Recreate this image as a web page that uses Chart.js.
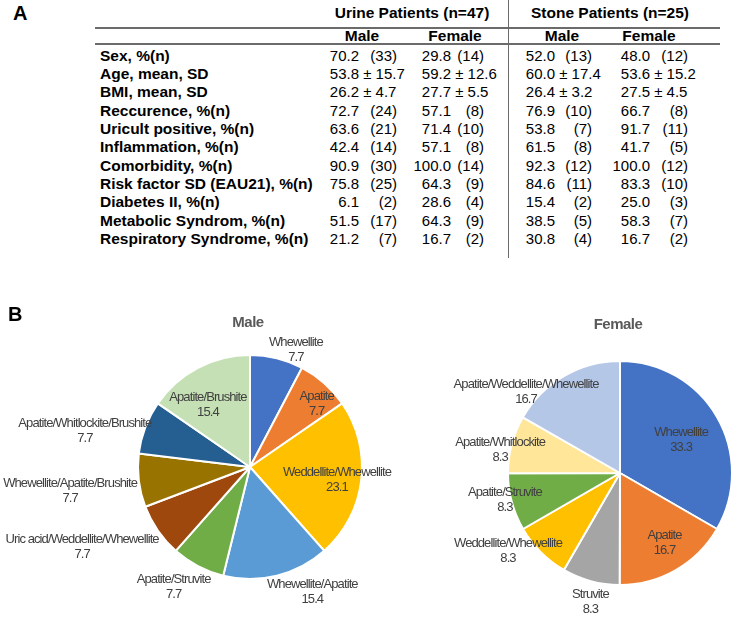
<!DOCTYPE html>
<html>
<head>
  <meta charset="utf-8">
  <title>Urine and stone patients</title>
  <script src="https://cdn.jsdelivr.net/npm/chart.js"></script>
  <style>
    body {
      margin: 0;
      padding: 0;
      background: #fff;
      font-family: "Liberation Sans", Arial, sans-serif;
    }
    #page {
      position: relative;
      width: 738px;
      height: 617px;
      overflow: hidden;
    }
    .t {
      position: absolute;
      white-space: pre;
      line-height: 18px;
      font-size: 15px;
      color: #000;
    }
    .b { font-weight: bold; font-size: 15.5px; }
    .h { font-weight: bold; font-size: 15.5px; }
    .panel { font-weight: bold; font-size: 20px; line-height: 20px; }
    .rule { position: absolute; background: #6b6b6b; }
    .box { position: absolute; }
  </style>
</head>
<body>
  <div id="page">
    <div class="box" id="maleBox" style="left:0; top:290px; width:420px; height:327px;"><canvas id="maleChart"></canvas></div>
    <div class="box" id="femaleBox" style="left:420px; top:290px; width:318px; height:327px;"><canvas id="femaleChart"></canvas></div>
  </div>

  <script>
    // A. table values
    const rowLabels = [
      'Sex, %(n)', 'Age, mean, SD', 'BMI, mean, SD', 'Reccurence, %(n)',
      'Uricult positive, %(n)', 'Inflammation, %(n)', 'Comorbidity, %(n)',
      'Risk factor SD (EAU21), %(n)', 'Diabetes II, %(n)', 'Metabolic Syndrom, %(n)',
      'Respiratory Syndrome, %(n)'
    ];
    const rowStats = ['pct', 'sd', 'sd', 'pct', 'pct', 'pct', 'pct', 'pct', 'pct', 'pct', 'pct'];
    const groupTitles = ['Urine Patients (n=47)', 'Stone Patients (n=25)'];
    const sexTitles = ['Male', 'Female'];

    const urineMale   = [[70.2, 33], [53.8, 15.7], [26.2, 4.7], [72.7, 24], [63.6, 21], [42.4, 14], [90.9, 30], [75.8, 25], [6.1, 2], [51.5, 17], [21.2, 7]];
    const urineFemale = [[29.8, 14], [59.2, 12.6], [27.7, 5.5], [57.1, 8], [71.4, 10], [57.1, 8], [100.0, 14], [64.3, 9], [28.6, 4], [64.3, 9], [16.7, 2]];
    const stoneMale   = [[52.0, 13], [60.0, 17.4], [26.4, 3.2], [76.9, 10], [53.8, 7], [61.5, 8], [92.3, 12], [84.6, 11], [15.4, 2], [38.5, 5], [30.8, 4]];
    const stoneFemale = [[48.0, 12], [53.6, 15.2], [27.5, 4.5], [66.7, 8], [91.7, 11], [41.7, 5], [100.0, 12], [83.3, 10], [25.0, 3], [58.3, 7], [16.7, 2]];

    // B. stone composition, %
    const maleStones = [
      'Whewellite', 'Apatite', 'Weddellite/Whewellite', 'Whewellite/Apatite', 'Apatite/Struvite',
      'Uric acid/Weddellite/Whewellite', 'Whewellite/Apatite/Brushite', 'Apatite/Whitlockite/Brushite',
      'Apatite/Brushite'
    ];
    const maleShare = [7.7, 7.7, 23.1, 15.4, 7.7, 7.7, 7.7, 7.7, 15.4];

    const femaleStones = [
      'Whewellite', 'Apatite', 'Struvite', 'Weddellite/Whewellite', 'Apatite/Struvite',
      'Apatite/Whitlockite', 'Apatite/Weddellite/Whewellite'
    ];
    const femaleShare = [33.3, 16.7, 8.3, 8.3, 8.3, 8.3, 16.7];

    // colours per stone type
    const stoneColors = {
      'Whewellite': '#4472C4',
      'Apatite': '#ED7D31',
      'Weddellite/Whewellite': '#FFC000',
      'Whewellite/Apatite': '#5B9BD5',
      'Apatite/Struvite': '#70AD47',
      'Uric acid/Weddellite/Whewellite': '#9E480E',
      'Whewellite/Apatite/Brushite': '#997300',
      'Apatite/Whitlockite/Brushite': '#255E91',
      'Apatite/Brushite': '#C5E0B4',
      'Struvite': '#A5A5A5',
      'Apatite/Whitlockite': '#FFE699',
      'Apatite/Weddellite/Whewellite': '#B4C7E7'
    };

    // ---- table (panel A) ----
    const page = document.getElementById('page');

    function put(text, x, y, align, cls) {
      const d = document.createElement('div');
      d.className = 't ' + (cls || '');
      d.textContent = text;
      if (align === 'right') d.style.right = (738 - x) + 'px';
      else if (align === 'center') { d.style.left = x + 'px'; d.style.transform = 'translateX(-50%)'; }
      else d.style.left = x + 'px';
      d.style.top = (y - 9) + 'px';
      page.appendChild(d);
      return d;
    }

    function rule(x, y, w, h) {
      const d = document.createElement('div');
      d.className = 'rule';
      Object.assign(d.style, { left: x + 'px', top: y + 'px', width: w + 'px', height: h + 'px' });
      page.appendChild(d);
    }

    put('A', 13, 12, 'left', 'panel');
    put('B', 8, 313, 'left', 'panel');

    put(groupTitles[0], 412, 13, 'center', 'h');
    put(groupTitles[1], 610, 13, 'center', 'h');
    put(sexTitles[0], 362, 36, 'center', 'h');
    put(sexTitles[1], 455, 36, 'center', 'h');
    put(sexTitles[0], 562, 36, 'center', 'h');
    put(sexTitles[1], 649, 36, 'center', 'h');

    rule(95, 27, 625, 1.5);
    rule(95, 43, 625, 1.5);
    rule(507.5, 0, 1.5, 258);

    const tableCols = [
      { data: urineMale, num: 359, n: 397 },
      { data: urineFemale, num: 451, n: 484 },
      { data: stoneMale, num: 555, n: 592 },
      { data: stoneFemale, num: 650, n: 688 }
    ];

    rowLabels.forEach((lab, i) => {
      const y = 55.5 + i * 18.35;
      put(lab, 100, y, 'left', 'b');
      tableCols.forEach(col => {
        const [a, b] = col.data[i];
        put(a.toFixed(1), col.num, y, 'right');
        if (rowStats[i] === 'sd') put(' \u00b1 ' + b.toFixed(1), col.num, y, 'left');
        else put('(' + b + ')', col.n, y, 'right');
      });
    });

    // ---- pies (panel B) ----
    const sliceLabels = {
      id: 'sliceLabels',
      afterDatasetsDraw(chart, args, opts) {
        const ctx = chart.ctx;
        const meta = chart.getDatasetMeta(0);
        const values = chart.data.datasets[0].data;
        ctx.save();
        ctx.font = '13px "Liberation Sans", Arial, sans-serif';
        ctx.letterSpacing = '-0.9px';
        ctx.fillStyle = '#404040';
        ctx.textAlign = 'center';
        ctx.textBaseline = 'middle';
        meta.data.forEach((arc, i) => {
          const p = arc.getProps(['x', 'y', 'startAngle', 'endAngle', 'outerRadius'], true);
          const [nudge, f] = opts.place[i];
          const a = (p.startAngle + p.endAngle) / 2 + nudge * Math.PI / 180;
          const cx = p.x + Math.cos(a) * p.outerRadius * f;
          const cy = p.y + Math.sin(a) * p.outerRadius * f;
          ctx.fillText(chart.data.labels[i], cx, cy - 7.5);
          ctx.fillText(values[i].toFixed(1), cx, cy + 7.5);
        });
        const ca = chart.chartArea;
        ctx.font = 'bold 15px "Liberation Sans", Arial, sans-serif';
        ctx.letterSpacing = '-0.5px';
        ctx.fillStyle = '#595959';
        ctx.fillText(opts.title, (ca.left + ca.right) / 2 - 2, ca.top - opts.titleGap);
        ctx.restore();
      }
    };

    function makePie(id, labels, values, pad, place, title, titleGap) {
      return new Chart(document.getElementById(id), {
        type: 'pie',
        data: {
          labels: labels,
          datasets: [{
            data: values,
            backgroundColor: labels.map(l => stoneColors[l]),
            borderColor: '#ffffff',
            borderWidth: 2
          }]
        },
        options: {
          responsive: true,
          maintainAspectRatio: false,
          animation: false,
          layout: { padding: pad },
          plugins: {
            legend: { display: false },
            tooltip: { enabled: false },
            sliceLabels: { place: place, title: title, titleGap: titleGap }
          }
        },
        plugins: [sliceLabels]
      });
    }

    // label placement: [angle nudge in degrees, distance as share of radius]
    const malePlace = [[7.6, 1.12], [5, 0.82], [1.5, 0.785], [-12.7, 1.245], [4.8, 1.27],
                       [9.2, 1.66], [-0.6, 1.62], [-8.3, 1.51], [-6.4, 0.67]];
    const femalePlace = [[1.7, 0.62], [-2.6, 0.74], [-2.2, 1.18], [10, 1.22], [2.1, 1.055],
                         [-3.8, 1.09], [-19, 1.11]];

    makePie('maleChart', maleStones, maleShare,
      { left: 137, right: 57, top: 64, bottom: 37 }, malePlace, 'Male', 31);
    makePie('femaleChart', femaleStones, femaleShare,
      { left: 87, right: 5, top: 70, bottom: 31 }, femalePlace, 'Female', 35);
  </script>
</body>
</html>
